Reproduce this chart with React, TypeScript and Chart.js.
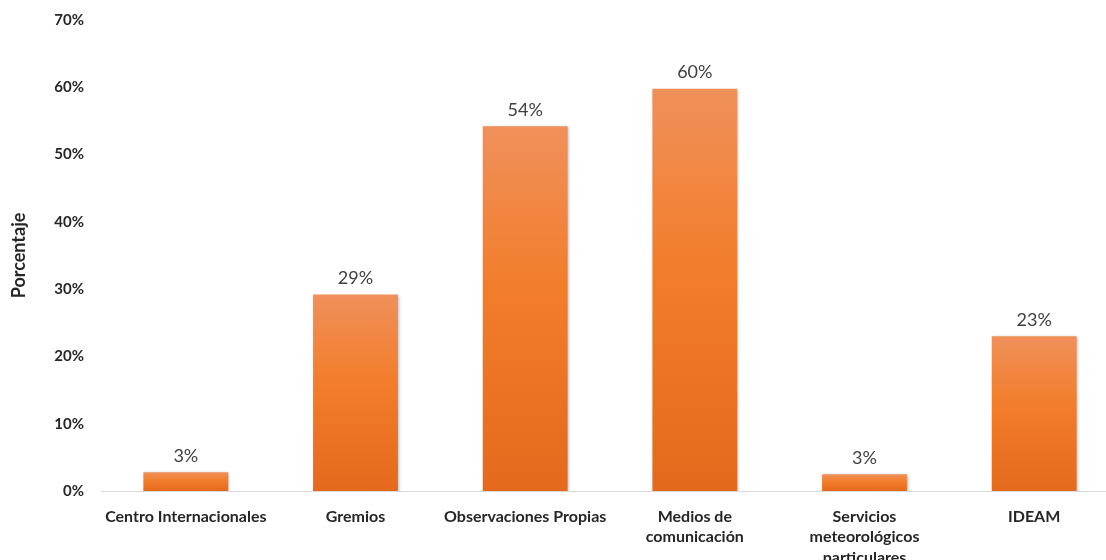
import React, { useEffect, useRef } from "react";
import { Chart, registerables } from "chart.js";

Chart.register(...registerables);

// Fuentes de información climática consultadas (porcentaje de respuestas)
const categories: (string | string[])[] = [
  "Centro Internacionales",
  "Gremios",
  "Observaciones Propias",
  ["Medios de", "comunicación"],
  ["Servicios", "meteorológicos", "particulares"],
  "IDEAM",
];
const percentages: number[] = [2.8, 29.2, 54.2, 59.8, 2.5, 23.0];
const yTicks: number[] = [0, 10, 20, 30, 40, 50, 60, 70];

const FONT = "Lato, 'Open Sans', sans-serif";
const CANVAS_W = 1122;
const CANVAS_H = 580;
const AXIS_Y = 491;

const barShadow = {
  id: "barShadow",
  beforeDatasetsDraw(chart: Chart) {
    const ctx = chart.ctx;
    ctx.save();
    ctx.shadowColor = "rgba(0,0,0,0.28)";
    ctx.shadowBlur = 3;
    ctx.shadowOffsetX = 1;
    ctx.shadowOffsetY = 1;
  },
  afterDatasetsDraw(chart: Chart) {
    chart.ctx.restore();
  },
};

const valueLabels = {
  id: "valueLabels",
  afterDraw(chart: Chart) {
    const ctx = chart.ctx;
    const meta = chart.getDatasetMeta(0);
    ctx.save();
    ctx.font = `18px ${FONT}`;
    ctx.fillStyle = "#404040";
    ctx.textAlign = "center";
    ctx.textBaseline = "bottom";
    meta.data.forEach((el: any, i: number) => {
      const v = percentages[i];
      ctx.fillText(`${Math.round(v)}%`, el.x, el.y - 7);
    });
    ctx.restore();
  },
};

export default function App() {
  const ref = useRef<HTMLCanvasElement | null>(null);

  useEffect(() => {
    if (!ref.current) return;
    const chart = new Chart(ref.current, {
      type: "bar",
      data: {
        labels: categories,
        datasets: [
          {
            data: percentages,
            backgroundColor: (c: any) => {
              const chartRef = c.chart;
              const y = chartRef.scales?.y;
              if (!y || c.dataIndex === undefined) return "#ee7b2c";
              const top = y.getPixelForValue(percentages[c.dataIndex]);
              const bottom = y.getPixelForValue(0);
              if (!Number.isFinite(top) || !Number.isFinite(bottom) || top === bottom) return "#ee7b2c";
              const g = chartRef.ctx.createLinearGradient(0, top, 0, bottom);
              g.addColorStop(0, "#f0905a");
              g.addColorStop(0.45, "#f27d2a");
              g.addColorStop(1, "#e4691c");
              return g;
            },
            borderWidth: 0,
            barPercentage: 0.5,
            categoryPercentage: 1,
          },
        ],
      },
      options: {
        responsive: false,
        animation: false,
        layout: { padding: { top: 20, right: 3, left: 0, bottom: 0 } },
        plugins: {
          legend: { display: false },
          tooltip: { enabled: false },
        },
        scales: {
          x: {
            grid: { display: false },
            border: { display: true, color: "#d9d9d9", width: 1 },
            ticks: {
              color: "#262626",
              font: { family: FONT, size: 16, weight: "bold", lineHeight: 1.3 },
              padding: 7,
              maxRotation: 0,
              autoSkip: false,
            },
            afterFit: (s: any) => {
              s.height = CANVAS_H - AXIS_Y;
            },
          },
          y: {
            min: 0,
            max: 70,
            afterBuildTicks: (s: any) => {
              s.ticks = yTicks.map((v) => ({ value: v }));
            },
            grid: { display: false, drawTicks: false },
            border: { display: false },
            ticks: {
              color: "#262626",
              font: { family: FONT, size: 15, weight: "bold" },
              padding: 17,
              callback: (v: any) => `${v}%`,
            },
            title: {
              display: true,
              text: "Porcentaje",
              color: "#262626",
              font: { family: FONT, size: 18, weight: "bold" },
              padding: { top: 8, bottom: 0 },
            },
            afterFit: (s: any) => {
              s.width = 101;
              s.paddingTop = 0;
              s.paddingBottom = 0;
            },
          },
        },
      },
      plugins: [barShadow, valueLabels],
    });
    return () => chart.destroy();
  }, []);

  return (
    <div
      style={{
        position: "fixed",
        left: 0,
        top: 0,
        width: 1106,
        height: 560,
        overflow: "hidden",
        background: "#ffffff",
      }}
    >
      <canvas
        ref={ref}
        width={CANVAS_W}
        height={CANVAS_H}
        style={{ position: "absolute", left: 0, top: 0, width: CANVAS_W, height: CANVAS_H }}
      />
    </div>
  );
}
